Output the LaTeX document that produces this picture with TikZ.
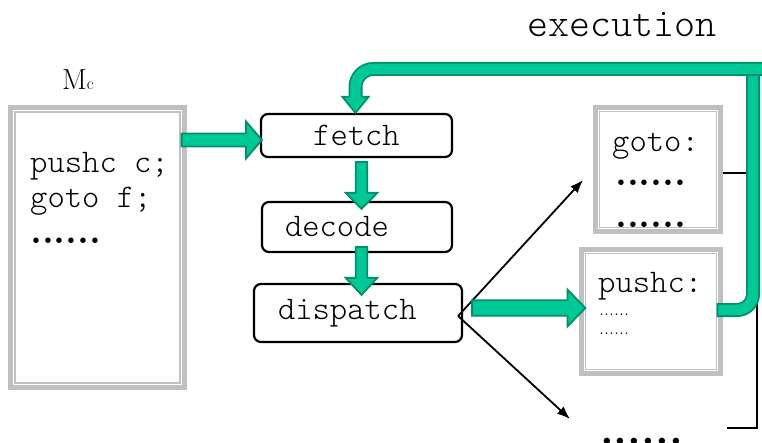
\documentclass[tikz,border=0pt]{standalone}
\usetikzlibrary{calc,arrows.meta}
\definecolor{grfill}{RGB}{0,200,150}
\definecolor{grline}{RGB}{0,145,108}
\definecolor{boxgray}{RGB}{192,192,192}
% #1 start, #2 tip, #3 half shaft, #4 half head, #5 head length
\newcommand\fatarrow[5]{%
  \path ($(#2)!#5!(#1)$) coordinate (fa-b);
  \filldraw[fatarrow] ($(#1)!#3!90:(#2)$) -- ($(fa-b)!#3!-90:(#1)$) -- ($(fa-b)!#4!-90:(#1)$) -- (#2)
    -- ($(fa-b)!#4!90:(#1)$) -- ($(fa-b)!#3!90:(#1)$) -- ($(#1)!#3!-90:(#2)$) -- cycle;
}
\begin{document}
\begin{tikzpicture}[x=1pt,y=-1pt,
  prog/.style={font=\fontsize{33}{38}\selectfont\ttfamily\fontseries{l}\selectfont},
  txt/.style={prog, anchor=base west, inner sep=0pt},
  bigdots/.style={font=\fontsize{38}{40}\selectfont\rmfamily\bfseries, anchor=base west, inner sep=0pt},
  smalldots/.style={font=\fontsize{20}{22}\selectfont\rmfamily, anchor=base west, inner sep=0pt},
  graybox/.style={draw=boxgray, line width=4.2pt, fill=white, inner sep=0pt},
  grayinner/.style={draw=boxgray, line width=1.5pt},
  flow/.style={draw, line width=2.2pt, rounded corners=7pt, prog, inner sep=0pt, fill=white},
  thinarrow/.style={line width=1.8pt, -{Latex[length=13pt,width=10pt]}},
  bracket/.style={line width=1.8pt},
  fatarrow/.style={fill=grfill, draw=grline, line width=1.8pt, line join=miter},
  exout/.style={draw=grline, line width=14pt},
  exin/.style={draw=grfill, line width=10.4pt}]
\useasboundingbox (0,0) rectangle (762,443);
\fill[white] (0,0) rectangle (762,443);

% memory block
\node[font=\fontsize{29}{31}\selectfont\rmfamily, anchor=base west, inner sep=0pt] (mclabel) at (62,90) {M{\fontsize{17}{17}\selectfont c}};
\node[graybox, minimum width=174, minimum height=280] (Mc) at (97.5,247.5) {};
\draw[grayinner] ($(Mc.north west)+(6.5,6.5)$) rectangle ($(Mc.south east)+(-6.5,-6.5)$);
\node[txt] (mc1) at (30,173) {pushc c;};
\node[txt] (mc2) at (30,208) {goto f;};
\node[bigdots] (mc3) at (30,244) {......};

% handler blocks
\node[graybox, minimum width=125, minimum height=124] (goto) at (658,169.5) {};
\draw[grayinner] ($(goto.north west)+(6,6)$) rectangle ($(goto.south east)+(-6,-6)$);
\node[txt] (g1) at (612,152) {goto:};
\node[bigdots] (g2) at (615,186) {......};
\node[bigdots] (g3) at (615,228) {......};

\node[graybox, minimum width=139, minimum height=124] (pushc) at (651,311.5) {};
\draw[grayinner] ($(pushc.north west)+(6,6)$) rectangle ($(pushc.south east)+(-6,-6)$);
\node[txt] (p1) at (598,292) {pushc:};
\node[smalldots] (p2) at (599,315) {......};
\node[smalldots] (p3) at (599,334) {......};

\node[font=\fontsize{44}{46}\selectfont\rmfamily\bfseries, anchor=base west, inner sep=0pt] (more) at (600,444.5) {......};

% interpreter loop
\node[flow, minimum width=191, minimum height=43] (fetch) at (356.5,135.5) {fetch};
\node[flow, minimum width=190, minimum height=50, inner xsep=23pt, text width=144pt, align=left] (decode) at (357,227) {decode};
\node[flow, minimum width=208, minimum height=58, inner xsep=24pt, text width=160pt, align=left] (dispatch) at (358,313) {dispatch};

\node[font=\fontsize{40}{44}\selectfont\ttfamily\fontseries{l}\selectfont, anchor=base west, inner sep=0pt] (exec) at (527,37) {execution};

% thin connectors
\coordinate (dsp) at ($(dispatch.east)+(-5,3)$);
\coordinate (upend) at (583,180);
\coordinate (dnend) at (570,419);
\draw[thinarrow] (dsp) -- (upend);
\draw[thinarrow] (dsp) -- (dnend);
\coordinate (brk) at (727,428);
\draw[bracket] ($(goto.east)+(0,3.5)$) -| ($(brk)+(30,0)$) -- (brk);

% fat arrows
\coordinate (a1s) at ($(Mc.east |- fetch.west)+(-5,4.5)$);
\coordinate (a1e) at ($(fetch.west)+(2,4.5)$);
\fatarrow{a1s}{a1e}{6.5pt}{18.6pt}{16pt}
\coordinate (a2s) at ($(fetch.south)+(5,4)$);
\coordinate (a2e) at ($(decode.north)+(4.5,8)$);
\fatarrow{a2s}{a2e}{5.7pt}{15.8pt}{16pt}
\coordinate (a3s) at ($(decode.south)+(4.5,-6)$);
\coordinate (a3e) at ($(dispatch.north)+(3.5,12)$);
\fatarrow{a3s}{a3e}{5.7pt}{15.8pt}{17pt}
\coordinate (a4s) at ($(dispatch.east)+(9,-5)$);
\coordinate (a4e) at ($(pushc.west)+(6,-3.5)$);
\fatarrow{a4s}{a4e}{7.8pt}{18.5pt}{18pt}

% execution return path
\coordinate (ex1) at ($(pushc.east)+(-6,-1.5)$);
\coordinate (exR) at (753,74);
\draw[exout, rounded corners=16pt] (ex1) -| (exR);
\draw[exin, rounded corners=16pt] ($(ex1)+(1.8,0)$) -| (exR);
\coordinate (exT) at (764,69);
\coordinate (hb) at ($(fetch.north)+(-1,-16)$);
\coordinate (htip) at ($(fetch.north)+(-1,0)$);
\draw[exout, rounded corners=18pt] (exT) -| (hb);
\draw[exin, rounded corners=18pt] (exT) -| (hb);
\filldraw[fatarrow] ($(hb)+(-6.1,0)$) -- ($(hb)+(-13,0)$) -- (htip) -- ($(hb)+(13,0)$) -- ($(hb)+(6.1,0)$);
\end{tikzpicture}
\end{document}
